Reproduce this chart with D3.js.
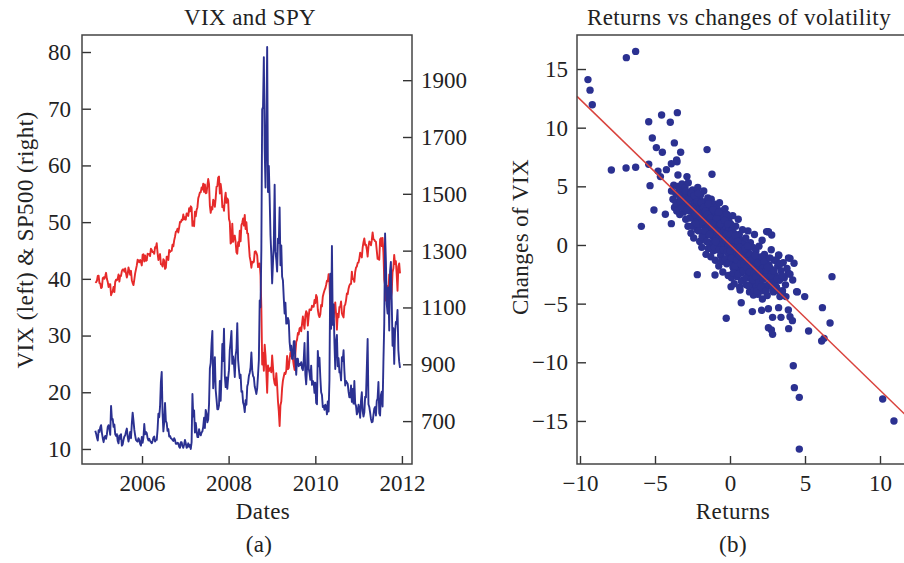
<!DOCTYPE html>
<html>
<head>
<meta charset="utf-8">
<title>VIX and SPY</title>
<script src="https://d3js.org/d3.v7.min.js"></script>
<style>
  body { margin: 0; background: #fff; }
  svg text { font-family: "Liberation Serif", serif; fill: #222; }
  .tick line { stroke: #333; stroke-width: 1.4; }
  .tick text { font-size: 23px; }
  .domain { display: none; }
  .lbl { font-size: 23px; letter-spacing: 0.4px; }
</style>
</head>
<body>
<script>
// weekly (Friday) closes, first week = 2004-12-03
const firstWeek = "2004-12-03";

const vixWeekly = [
  13.2, 12.7, 12.0, 11.5, 13.3,                                   // 2004 dec
  13.0, 13.8, 14.2, 12.8, 11.9, 11.2, 12.0, 12.3, 11.8, 12.6, 13.9, 14.2,   // 2005
  13.6, 12.5, 17.6, 15.2, 15.3, 13.9, 14.3, 12.6, 12.3, 12.6, 11.4, 11.0, 12.4,
  11.8, 12.6, 10.6, 10.8, 11.6, 12.2, 12.4, 13.1, 13.6, 12.2, 11.3, 12.0, 13.0, 11.9,
  14.5, 16.4, 15.0, 13.4, 12.4, 11.6, 11.4, 11.3, 11.9, 11.6, 10.9, 10.6, 12.1,
  11.1, 12.0, 14.4, 12.6, 13.0, 12.8, 11.9, 11.5, 11.8, 11.4, 11.2, 11.0, 11.4,   // 2006
  12.0, 12.2, 11.3, 11.6, 11.6, 13.4, 16.2, 15.6, 17.5, 21.8, 23.6, 16.4, 13.1,
  14.7, 18.1, 14.9, 14.6, 13.2, 13.5, 12.2, 12.3, 11.9, 11.8, 11.6, 11.4, 11.9,
  11.6, 10.9, 10.9, 11.1, 11.0, 10.4, 10.2, 11.2, 11.2, 10.5, 10.2, 10.8, 11.6,
  11.0, 10.2, 10.4, 11.0, 10.4, 10.7, 10.0, 11.2, 19.7, 15.7, 16.8, 12.9, 14.6,   // 2007
  13.2, 12.1, 12.1, 13.5, 12.7, 12.4, 12.9, 13.1, 13.9, 15.5, 13.7, 16.9, 16.2,
  14.7, 15.2, 17.9, 24.2, 25.2, 28.5, 30.8, 20.7, 23.4, 26.2, 20.4, 18.8, 17.0,
  17.0, 17.7, 22.0, 18.5, 23.0, 28.5, 25.5, 31.2, 22.9, 20.9, 22.6, 20.6, 22.5,
  23.9, 27.5, 29.0, 30.8, 25.0, 26.3, 25.0, 22.7, 26.5, 27.5, 32.2, 25.7, 24.0,   // 2008
  22.5, 23.1, 20.1, 20.2, 18.2, 17.7, 16.5, 18.6, 17.8, 21.0, 21.6, 22.9, 23.4,
  24.4, 27.0, 23.9, 22.9, 22.6, 21.0, 20.4, 19.7, 20.7, 23.1, 25.7, 36.2, 35.0,
  45.1, 69.9, 70.3, 79.1, 62.9, 56.1, 66.3, 80.9, 55.3, 59.9, 54.3, 47.7, 44.2,
  39.2, 42.8, 46.1, 56.6, 44.8, 43.4, 41.3, 47.1, 46.3, 52.6, 42.4, 45.9, 40.4,   // 2009
  39.7, 36.6, 33.9, 35.8, 32.1, 32.1, 33.1, 32.6, 28.9, 27.4, 28.2, 25.9, 25.9,
  29.0, 29.0, 25.4, 23.1, 25.9, 25.9, 24.6, 25.0, 24.8, 25.3, 24.2, 23.9, 25.6,
  28.7, 23.1, 21.4, 24.2, 30.7, 24.2, 23.4, 22.2, 24.7, 21.3, 22.0, 21.7, 19.9,
  21.7, 18.1, 17.9, 27.3, 24.6, 26.1, 22.7, 20.0, 19.5, 17.4, 17.6, 16.9, 17.8,   // 2010
  17.5, 16.1, 18.4, 16.6, 22.1, 40.9, 31.2, 45.8, 31.9, 35.5, 28.8, 24.1, 29.0,
  30.1, 24.6, 26.0, 23.5, 23.5, 22.1, 26.2, 25.5, 27.4, 23.8, 21.2, 22.0, 21.7,
  21.5, 20.1, 19.1, 19.1, 21.2, 18.3, 20.6, 18.0, 22.0, 18.0, 17.6, 16.1, 16.5, 17.8,
  17.1, 15.5, 18.5, 20.0, 16.7, 15.7, 16.4, 19.2, 19.1, 24.3, 29.4, 17.9,         // 2011
  17.4, 16.4, 15.3, 14.7, 14.8, 16.0, 17.1, 17.4, 15.9, 18.5, 18.9, 21.8, 16.3,
  15.9, 19.5, 20.1, 17.5, 25.3, 32.0, 48.0, 43.1, 35.6, 33.9, 38.5, 30.9, 41.3, 43.0,
  36.2, 28.2, 31.3, 25.0, 30.5, 32.4, 32.1, 34.5, 27.4, 25.4, 24.3
];

const spxWeekly = [
  1191, 1189, 1194, 1211, 1212,                                         // 2004 dec
  1186, 1184, 1168, 1171, 1203, 1206, 1201, 1211, 1222, 1200, 1190, 1172,   // 2005
  1181, 1182, 1143, 1152, 1157, 1172, 1154, 1190, 1198, 1196, 1201, 1216, 1191,
  1212, 1211, 1228, 1234, 1234, 1226, 1237, 1220, 1205, 1218, 1241, 1228, 1215, 1229,
  1196, 1186, 1179, 1198, 1220, 1234, 1248, 1268, 1265, 1259, 1267, 1260, 1248,
  1285, 1287, 1262, 1283, 1264, 1266, 1289, 1287, 1288, 1281, 1307, 1302, 1295,   // 2006
  1295, 1289, 1312, 1310, 1326, 1292, 1267, 1280, 1288, 1252, 1252, 1244, 1270,
  1265, 1236, 1240, 1279, 1279, 1267, 1302, 1295, 1299, 1299, 1321, 1315, 1336,
  1349, 1366, 1368, 1377, 1364, 1381, 1401, 1400, 1409, 1407, 1427, 1410, 1418,
  1409, 1431, 1430, 1422, 1449, 1438, 1456, 1451, 1387, 1402, 1386, 1437, 1421,   // 2007
  1443, 1452, 1484, 1494, 1505, 1505, 1522, 1515, 1536, 1507, 1533, 1502, 1503,
  1530, 1552, 1534, 1458, 1433, 1453, 1445, 1479, 1474, 1454, 1484, 1525, 1527,
  1557, 1561, 1501, 1535, 1510, 1453, 1458, 1440, 1481, 1504, 1468, 1484, 1478,
  1411, 1401, 1325, 1330, 1395, 1331, 1350, 1353, 1331, 1294, 1289, 1330, 1316,   // 2008
  1370, 1333, 1390, 1398, 1413, 1388, 1426, 1376, 1400, 1361, 1360, 1318, 1278,
  1263, 1240, 1261, 1258, 1261, 1296, 1298, 1292, 1283, 1242, 1252, 1255, 1213,
  1100, 899, 940, 877, 969, 931, 873, 800, 896, 876, 879, 888, 872,
  931, 890, 850, 832, 826, 869, 827, 770, 735, 683, 756, 769, 816,               // 2009
  843, 857, 870, 866, 878, 929, 883, 887, 919, 940, 946, 921, 918,
  897, 880, 940, 979, 987, 1010, 1005, 1026, 1029, 1016, 1042, 1068, 1044,
  1025, 1071, 1087, 1080, 1036, 1069, 1093, 1092, 1091, 1106, 1102, 1102, 1126,
  1115, 1144, 1136, 1092, 1074, 1066, 1075, 1109, 1104, 1138, 1150, 1160, 1167,   // 2010
  1179, 1194, 1192, 1217, 1187, 1111, 1136, 1088, 1089, 1065, 1092, 1118, 1076,
  1022, 1078, 1065, 1102, 1102, 1121, 1080, 1071, 1065, 1105, 1110, 1125, 1149,
  1147, 1166, 1177, 1183, 1183, 1226, 1200, 1200, 1190, 1225, 1240, 1244, 1257, 1258,
  1272, 1293, 1283, 1276, 1311, 1330, 1343, 1320, 1321, 1304, 1279, 1314,         // 2011
  1332, 1328, 1319, 1337, 1364, 1340, 1338, 1333, 1331, 1300, 1271, 1271, 1268,
  1340, 1344, 1316, 1345, 1292, 1199, 1179, 1124, 1177, 1174, 1154, 1216, 1136, 1131,
  1155, 1224, 1238, 1285, 1253, 1263, 1216, 1159, 1244, 1255, 1220
];

const yearTicks = [2006, 2008, 2010, 2012];
const vixTicks = [10, 20, 30, 40, 50, 60, 70, 80];
const spxTicks = [700, 900, 1100, 1300, 1500, 1700, 1900];

// daily SPX return (%) vs daily change of VIX
const scatterPts = [
  // outliers
  [-6.91,15.97],[-6.29,16.5],[-9.47,14.1],[-9.33,13.2],[-9.18,11.96],
  [-5.42,10.5],[-4.56,11.08],[-3.98,10.46],[-3.51,11.28],[-5.18,9.12],[-3.71,8.7],[-4.91,8.3],[-4.51,7.9],[-3.29,7.9],[-1.53,8.13],
  [-7.91,6.39],[-6.93,6.56],[-6.29,6.62],[-5.42,6.88],[-4.8,6.3],[-4.24,6.42],[-3.91,6.93],[-3.53,7.1],[-3.47,5.97],[-1.2,6.03],[-2.87,5.83],[-4.64,5.83],
  [-5.33,5.06],[-5.07,2.98],[-4.31,2.62],[-3.91,1.82],[-5.91,1.59],[-3.56,7.25],
  [6.8,-2.7],[-0.25,-6.25],[0.75,-4.92],[1.49,-5.68],[2.11,-5.57],[2.56,-5.43],[2.84,-6.17],[3.4,-6.17],[3.24,-5.34],[3.89,-5.54],
  [4.0,-6.11],[4.16,-6.45],[2.56,-7.05],[2.84,-7.62],[2.76,-7.25],[3.91,-7.13],[5.24,-7.33],[6.16,-5.34],[6.67,-6.65],[6.11,-8.18],
  [6.27,-7.96],[4.98,-4.4],[4.49,-4.0],[4.22,-10.29],[4.29,-12.16],[4.62,-12.99],[4.62,-17.4],[10.18,-13.13],[10.93,-15.0],
  [3.33,-4.4],[3.5,-3.9],[4.18,-2.98],[3.89,-2.41],[4.27,-1.56],[4.0,-1.14],[3.24,-0.85],[2.78,0.85],[2.56,1.14],[-1.0,-2.56],
  [0.07,-3.55],[0.67,-3.84],[1.56,-4.26],[2.16,-4.6],[-2.18,-2.53],[2.44,1.14],[4.44,-3.98],[3.73,-4.4],
  // main cloud
  [-3.9,4.6],[-3.8,3.9],[-3.75,5.1],[-3.7,3.2],[-3.62,4.4],[-3.55,2.9],[-3.5,5.0],[-3.45,3.7],[-3.4,4.8],[-3.35,2.6],
  [-3.3,4.1],[-3.25,3.3],[-3.2,5.2],[-3.15,4.5],[-3.1,2.8],[-3.05,3.9],[-3.0,4.9],[-3.0,3.1],
  [-2.95,2.2],[-2.9,4.3],[-2.85,3.6],[-2.8,1.6],[-2.78,5.3],[-2.7,2.9],[-2.65,4.0],[-2.6,1.0],[-2.55,3.3],[-2.5,4.7],
  [-2.48,2.4],[-2.42,0.6],[-2.4,3.8],[-2.35,1.9],[-2.3,4.4],[-2.28,2.9],[-2.22,3.4],[-2.2,1.3],[-2.15,4.9],[-2.1,2.1],
  [-2.05,3.0],[-2.02,0.3],[-2.0,3.9],[-2.0,2.6],
  [-1.97,1.7],[-1.95,4.3],[-1.9,2.3],[-1.88,-0.2],[-1.85,3.3],[-1.8,1.1],[-1.78,2.8],[-1.75,4.6],[-1.72,0.5],[-1.7,2.0],
  [-1.66,3.7],[-1.62,1.4],[-1.6,-0.8],[-1.58,2.6],[-1.55,3.1],[-1.52,0.9],[-1.5,1.9],[-1.48,4.0],[-1.45,-0.3],[-1.42,2.3],
  [-1.4,1.3],[-1.38,3.4],[-1.35,0.2],[-1.32,2.8],[-1.3,1.7],[-1.28,-1.0],[-1.25,3.9],[-1.22,0.8],[-1.2,2.1],[-1.18,1.2],
  [-1.15,2.9],[-1.12,-0.5],[-1.1,1.6],[-1.08,3.5],[-1.05,0.4],[-1.03,2.4],[-1.0,1.0],
  [-0.98,-1.3],[-0.95,2.0],[-0.93,0.6],[-0.9,3.2],[-0.88,1.5],[-0.85,-0.4],[-0.82,2.6],[-0.8,0.1],[-0.78,1.9],[-0.75,-1.8],
  [-0.72,1.1],[-0.7,3.6],[-0.68,0.4],[-0.65,2.2],[-0.62,-0.9],[-0.6,1.4],[-0.58,0.8],[-0.55,2.9],[-0.52,-0.1],[-0.5,1.7],
  [-0.48,-2.3],[-0.46,0.9],[-0.44,2.4],[-0.42,0.2],[-0.4,1.2],[-0.38,-1.2],[-0.35,0.6],[-0.33,3.1],[-0.3,1.9],[-0.28,-0.5],
  [-0.26,0.3],[-0.24,1.5],[-0.22,-1.6],[-0.2,2.6],[-0.18,0.8],[-0.16,-0.2],[-0.14,1.1],[-0.12,-2.6],[-0.1,0.5],[-0.08,2.1],
  [-0.06,-0.8],[-0.04,1.4],[-0.02,0.1],
  [0.02,-0.4],[0.04,1.8],[0.06,-1.4],[0.08,0.6],[0.1,-2.8],[0.12,-0.1],[0.14,1.2],[0.16,-0.9],[0.18,2.5],[0.2,-1.9],
  [0.22,0.3],[0.24,-0.6],[0.26,1.0],[0.28,-3.3],[0.3,-1.2],[0.32,0.0],[0.35,-2.2],[0.38,1.6],[0.4,-0.8],[0.42,-1.6],
  [0.45,0.5],[0.48,-2.7],[0.5,-0.3],[0.52,-1.1],[0.55,2.2],[0.58,-1.9],[0.6,-0.5],[0.62,0.9],[0.65,-3.6],[0.68,-1.4],
  [0.7,-0.1],[0.72,-2.4],[0.75,0.4],[0.78,-1.0],[0.8,-1.8],[0.83,1.3],[0.86,-0.7],[0.88,-3.0],[0.9,-1.3],[0.93,0.1],
  [0.96,-2.1],[0.98,-0.9],
  [1.02,-1.6],[1.05,0.6],[1.08,-3.4],[1.1,-0.4],[1.13,-2.3],[1.16,-1.1],[1.2,1.2],[1.22,-2.8],[1.25,-0.7],[1.28,-1.9],
  [1.3,-4.0],[1.33,-1.4],[1.36,0.2],[1.4,-2.5],[1.42,-0.9],[1.45,-3.3],[1.48,-1.7],[1.52,-0.2],[1.55,-2.2],[1.58,-3.8],
  [1.6,-1.2],[1.63,0.9],[1.66,-2.8],[1.7,-1.6],[1.73,-0.5],[1.76,-3.5],[1.8,-2.1],[1.83,-1.0],[1.86,-4.2],[1.9,-2.6],
  [1.93,-0.1],[1.96,-1.8],
  [2.02,-3.1],[2.05,-1.4],[2.1,-2.4],[2.14,0.4],[2.18,-3.9],[2.22,-1.9],[2.26,-2.9],[2.3,-0.8],[2.35,-3.5],[2.4,-2.2],
  [2.44,-1.2],[2.48,-4.3],[2.52,-2.7],[2.56,1.1],[2.6,-1.7],[2.65,-3.3],[2.7,-2.0],[2.75,-0.4],[2.8,-3.0],[2.85,-2.4],
  [2.9,-4.0],[2.95,-1.3],
  [3.02,-2.6],[3.1,-3.6],[3.18,-1.8],[3.25,-0.9],[3.3,-3.0],[3.4,-2.2],[3.48,-4.1],[3.55,-1.5],[3.62,-2.8],[3.7,-3.4],
  [3.8,-2.0],[3.9,-1.1],[4.0,-2.5],
  [-1.45,1.6],[-1.2,1.5],[-0.95,1.2],[-0.7,0.7],[-0.5,0.5],[-0.3,0.4],[-0.1,0.0],[0.1,-0.2],[0.3,-0.5],[0.5,-0.7],
  [0.7,-0.9],[0.9,-1.1],[1.1,-1.4],[1.3,-1.6],[1.5,-1.9],[1.7,-2.1],[-1.7,2.2],[-2.1,2.5],[-2.6,3.0],[-3.1,3.6],
  [-3.6,3.6],[-3.45,4.3],[-3.3,3.6],[-3.15,3.2],[-2.95,4.6],[-2.88,3.0],[-2.75,3.9],[-2.68,2.3],[-2.58,4.4],[-2.52,1.6],
  [-2.45,3.1],[-2.38,4.2],[-2.32,2.6],[-2.25,1.8],[-2.18,3.7],[-2.12,4.4],[-2.08,1.2],[-1.92,3.6],[-1.86,0.7],[-1.82,2.0],
  [-1.76,3.2],[-1.68,1.2],[-1.64,2.9],[-1.56,0.3],[-1.5,2.6],[-1.44,3.5],[-1.36,0.9],[-1.3,2.3],[-1.24,-0.3],[-1.16,1.9],
  [-1.1,3.0],[-1.04,-0.2],[-0.96,0.3],[-0.9,2.3],[-0.84,1.1],[-0.76,2.8],[-0.7,-0.4],[-0.64,1.8],[-0.56,-1.4],[-0.5,1.0],
  [-0.44,-0.4],[-0.36,2.1],[-0.3,-1.2],[-0.24,0.9],[-0.2,-0.6],[-0.15,1.8],[-0.08,-1.5],[-0.04,0.6],[0.0,-0.5],[0.05,0.9],
  [0.1,-1.1],[0.15,0.4],[0.2,-2.4],[0.26,-0.2],[0.32,-1.8],[0.36,0.8],[0.42,-0.3],[0.46,-1.3],[0.52,0.3],[0.56,-2.5],
  [0.62,-0.9],[0.66,-0.2],[0.72,-1.6],[0.76,-3.1],[0.82,-0.5],[0.88,-2.2],[0.94,-1.6],[1.0,-0.3],[1.06,-2.8],[1.12,-1.9],
  [1.18,-0.1],[1.24,-3.5],[1.3,-2.3],[1.36,-0.8],[1.44,-2.9],[1.5,-1.2],[1.56,-3.0],[1.62,-2.4],[1.68,-0.9],[1.74,-2.7],
  [1.8,-3.9],[1.86,-1.5],[1.92,-3.2],[1.98,-2.3],[2.06,-3.6],[2.12,-1.0],[2.2,-2.9],[2.28,-1.4],[2.36,-2.7],[2.42,-3.9],
  [2.5,-1.9],[2.58,-3.4],[2.66,-1.1],[2.74,-2.6],[2.82,-3.6],[2.92,-2.2],[3.0,-3.4],[3.08,-1.3],[3.15,-2.9],[3.22,-3.9],
  [3.35,-1.6],[3.45,-2.6]
];
const retTicks = [-10, -5, 0, 5, 10];
const dvixTicks = [-15, -10, -5, 0, 5, 10, 15];
// least squares line
const fitSlope = -1.24;
const fitIntercept = 0.02;

const W = 904, H = 563;
const blue = "#2b3191", red = "#e62a2a";

const svg = d3.select("body").append("svg")
  .attr("width", W).attr("height", H);

// ---------- panel (a) ----------
const pa = {left: 82, right: 412, top: 35, bottom: 464};
const parseDay = d3.timeParse("%Y-%m-%d");
const start = parseDay(firstWeek);
const weekDates = vixWeekly.map((v, i) => d3.timeWeek.offset(start, i));

const xT = d3.scaleTime()
  .domain([new Date(2004, 7, 13), new Date(2012, 2, 26)])
  .range([pa.left, pa.right]);
const yV = d3.scaleLinear().domain([7.35, 83]).range([pa.bottom, pa.top]);
const yS = d3.scaleLinear().domain([549, 2059]).range([pa.bottom, pa.top]);

const ga = svg.append("g");

ga.append("path")
  .datum(spxWeekly)
  .attr("fill", "none").attr("stroke", red).attr("stroke-width", 1.9)
  .attr("stroke-linejoin", "round")
  .attr("d", d3.line().x((d, i) => xT(weekDates[i])).y(d => yS(d)));

ga.append("path")
  .datum(vixWeekly)
  .attr("fill", "none").attr("stroke", blue).attr("stroke-width", 1.9)
  .attr("stroke-linejoin", "round")
  .attr("d", d3.line().x((d, i) => xT(weekDates[i])).y(d => yV(d)));

ga.append("g").attr("transform", `translate(0,${pa.bottom})`)
  .call(d3.axisBottom(xT).tickValues(yearTicks.map(y => new Date(y, 0, 1)))
    .tickFormat(d3.timeFormat("%Y")).tickSizeInner(-8).tickSizeOuter(0).tickPadding(11));
ga.append("g").attr("transform", `translate(${pa.left},0)`)
  .call(d3.axisLeft(yV).tickValues(vixTicks).tickSizeInner(-9).tickSizeOuter(0).tickPadding(11));
ga.append("g").attr("transform", `translate(${pa.right},0)`)
  .call(d3.axisRight(yS).tickValues(spxTicks).tickFormat(d3.format("d"))
    .tickSizeInner(-9).tickSizeOuter(0).tickPadding(9));

ga.append("rect")
  .attr("x", pa.left).attr("y", pa.top)
  .attr("width", pa.right - pa.left).attr("height", pa.bottom - pa.top)
  .attr("fill", "none").attr("stroke", "#444").attr("stroke-width", 1.5);

ga.append("text").attr("class", "lbl").attr("x", 250).attr("y", 25).attr("text-anchor", "middle")
  .text("VIX and SPY");
ga.append("text").attr("class", "lbl").attr("x", 263).attr("y", 519).attr("text-anchor", "middle")
  .text("Dates");
ga.append("text").attr("class", "lbl").attr("x", 259).attr("y", 552).attr("text-anchor", "middle")
  .text("(a)");
ga.append("text").attr("class", "lbl").attr("transform", "translate(33,240) rotate(-90)")
  .attr("text-anchor", "middle")
  .text("VIX (left) & SP500 (right)");

// ---------- panel (b) ----------
const pb = {left: 577, right: 907, top: 35, bottom: 464};
const xR = d3.scaleLinear().domain([-10.2, 11.8]).range([pb.left, pb.right]);
const yC = d3.scaleLinear().domain([-18.67, 17.9]).range([pb.bottom, pb.top]);

const gb = svg.append("g");

gb.append("g").selectAll("circle")
  .data(scatterPts)
  .join("circle")
  .attr("cx", d => xR(d[0])).attr("cy", d => yC(d[1]))
  .attr("r", 3.7).attr("fill", blue);

const xd = xR.domain();
gb.append("line")
  .attr("x1", xR(xd[0])).attr("y1", yC(fitIntercept + fitSlope * xd[0]))
  .attr("x2", xR(xd[1])).attr("y2", yC(fitIntercept + fitSlope * xd[1]))
  .attr("stroke", "#d9433d").attr("stroke-width", 1.5);

gb.append("g").attr("transform", `translate(0,${pb.bottom})`)
  .call(d3.axisBottom(xR).tickValues(retTicks).tickSizeInner(-8).tickSizeOuter(0).tickPadding(11));
gb.append("g").attr("transform", `translate(${pb.left},0)`)
  .call(d3.axisLeft(yC).tickValues(dvixTicks).tickSizeInner(-9).tickSizeOuter(0).tickPadding(9));

gb.append("rect")
  .attr("x", pb.left).attr("y", pb.top)
  .attr("width", pb.right - pb.left).attr("height", pb.bottom - pb.top)
  .attr("fill", "none").attr("stroke", "#444").attr("stroke-width", 1.5);

gb.append("text").attr("class", "lbl").attr("x", 739).attr("y", 25).attr("text-anchor", "middle")
  .text("Returns vs changes of volatility");
gb.append("text").attr("class", "lbl").attr("x", 733).attr("y", 519).attr("text-anchor", "middle")
  .text("Returns");
gb.append("text").attr("class", "lbl").attr("x", 733).attr("y", 552).attr("text-anchor", "middle")
  .text("(b)");
gb.append("text").attr("class", "lbl").attr("transform", "translate(528,237) rotate(-90)")
  .attr("text-anchor", "middle")
  .text("Changes of VIX");
</script>
</body>
</html>
